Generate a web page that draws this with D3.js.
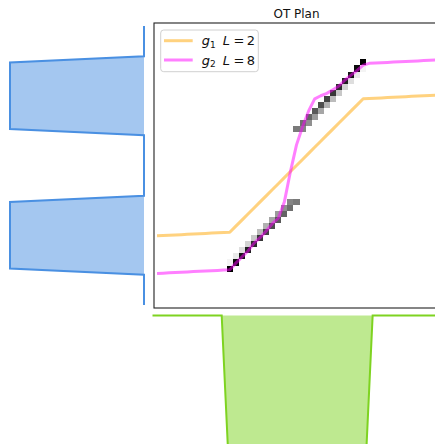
<!DOCTYPE html>
<html>
<head>
<meta charset="utf-8">
<script src="https://cdn.jsdelivr.net/npm/d3@7"></script>
<style>
  html, body { margin: 0; padding: 0; background: #fff; }
  svg { display: block; font-family: "DejaVu Sans", sans-serif; }
</style>
</head>
<body>
<svg id="chart" width="435" height="444"></svg>
<script>
// Sample grid shared by the source (rows) and the target (columns)
const gridIndex = d3.range(47);

// Source histogram a (rows, counted from the bottom), relative height
const sourceMass = [0,0,0,0,0,0, 1,1,1,1,1,1,1,1,1,1,1,1, 0,0,0,0,0,0,0,0,0,0,0,
                    1,1,1,1,1,1,1,1,1,1,1,1, 0,0,0,0,0,0];
// Target histogram b (columns), relative height
const targetMass = [0,0,0,0,0,0,0,0,0,0,0,0, 1,1,1,1,1,1,1,1,1,1,1,1,1,1,1,1,1,1,1,1,1,1,1,
                    0,0,0,0,0,0,0,0,0,0,0,0];

// Non-zero entries of the transport plan (row, column, shade out of 23)
const planRows  = [6,7,8,9,10,11,12,13,14,15,16,17,  7,8,9,10,11,12,13,14,15,16,17,
                   29,30,31,32,33,34,35,36,37,38,39,40,  29,30,31,32,33,34,35,36,37,38,39];
const planCols  = [12,13,14,15,16,17,18,19,20,21,22,23,  12,13,14,15,16,17,18,19,20,21,22,
                   23,24,25,26,27,28,29,30,31,32,33,34,  24,25,26,27,28,29,30,31,32,33,34];
const planShade = [23,22,21,20,19,18,17,16,15,14,13,12,  1,2,3,4,5,6,7,8,9,10,11,
                   12,13,14,15,16,17,18,19,20,21,22,23,  11,10,9,8,7,6,5,4,3,2,1];

// Fitted maps evaluated on the column grid (values in row units)
const g1Values = [11.4,11.45,11.5,11.55,11.6,11.65,11.7,11.75,11.8,11.85,11.9,11.95,
                  12,13,14,15,16,17,18,19,20,21,22,23,24,25,26,27,28,29,30,31,32,33,34,
                  34.05,34.1,34.15,34.2,34.25,34.3,34.35,34.4,34.45,34.5,34.55,34.6];
const g2Values = [5.2,5.25,5.3,5.35,5.4,5.45,5.5,5.55,5.6,5.65,5.7,5.75,
                  5.8,6.9,7.9,8.9,10.2,11.1,12.2,13.4,14.3,17.0,22.0,26.4,29.4,32.0,34.0,
                  34.5,34.9,35.5,36.1,37.1,37.9,38.7,39.55,
                  39.85,39.9,39.95,40.0,40.05,40.1,40.15,40.2,40.25,40.3,40.35,40.4];

const legendLabels = [["g", "1", "L", "2"], ["g", "2", "L", "8"]];
const lineColors = ["orange", "magenta"];
const titleText = "OT Plan";

const svg = d3.select("#chart");

// Main plan axes
const ax = { left: 154, top: 23, size: 285 };
const x = d3.scaleLinear().domain([-0.5, 46.5]).range([ax.left, ax.left + ax.size]);
const y = d3.scaleLinear().domain([-0.5, 46.5]).range([ax.top + ax.size, ax.top]);
const cell = x(1) - x(0);

// Source panel (left) and target panel (below, on its own horizontal scale)
const srcBase = 144, srcDepth = 134;
const srcX = d3.scaleLinear().domain([0, 1]).range([srcBase, srcBase - srcDepth]);
const tgtX = d3.scaleLinear().domain([0, 46]).range([152.5, 152.5 + 46 * 6.29]);
const tgtBase = 315.5, tgtDepth = 134;
const tgtY = d3.scaleLinear().domain([0, 1]).range([tgtBase, tgtBase + tgtDepth]);

const blue = "#4a90e2", green = "#7ed321";

// source histogram
const srcLine = d3.line().x(i => srcX(sourceMass[i])).y(i => y(i));
const srcArea = d3.area().y(i => y(i)).x0(srcBase).x1(i => srcX(sourceMass[i]));
svg.append("path").attr("d", srcArea(gridIndex)).attr("fill", blue).attr("fill-opacity", 0.5);
svg.append("path").attr("d", srcLine(gridIndex)).attr("fill", "none")
  .attr("stroke", blue).attr("stroke-width", 2);

// target histogram
const tgtLine = d3.line().x(j => tgtX(j)).y(j => tgtY(targetMass[j]));
const tgtArea = d3.area().x(j => tgtX(j)).y0(tgtBase).y1(j => tgtY(targetMass[j]));
svg.append("path").attr("d", tgtArea(gridIndex)).attr("fill", green).attr("fill-opacity", 0.5);
svg.append("path").attr("d", tgtLine(gridIndex)).attr("fill", "none")
  .attr("stroke", green).attr("stroke-width", 2);

// plan image
const shade = d3.scaleLinear().domain([0, 23]).range(["#ffffff", "#000000"]);
svg.append("clipPath").attr("id", "axclip")
  .append("rect").attr("x", ax.left).attr("y", ax.top).attr("width", ax.size).attr("height", ax.size);
const plot = svg.append("g").attr("clip-path", "url(#axclip)");
plot.selectAll("rect.cell").data(planRows.map((r, i) => ({ r, c: planCols[i], s: planShade[i] })))
  .join("rect").attr("class", "cell")
  .attr("x", d => x(d.c - 0.5)).attr("y", d => y(d.r + 0.5))
  .attr("width", cell).attr("height", cell)
  .attr("fill", d => shade(d.s)).attr("shape-rendering", "crispEdges");

// fitted maps
const mapLine = vals => d3.line().x(j => x(j)).y(j => y(vals[j]))(gridIndex);
[g1Values, g2Values].forEach((vals, k) => {
  plot.append("path").attr("d", mapLine(vals)).attr("fill", "none")
    .attr("stroke", lineColors[k]).attr("stroke-opacity", 0.5).attr("stroke-width", 3)
    .attr("stroke-linejoin", "round");
});

// frame
svg.append("rect").attr("x", ax.left).attr("y", ax.top).attr("width", ax.size).attr("height", ax.size)
  .attr("fill", "none").attr("stroke", "#222").attr("stroke-width", 1.1);

// title
svg.append("text").attr("x", ax.left + ax.size / 2).attr("y", 18.3).attr("text-anchor", "middle")
  .attr("font-size", 12).attr("fill", "#111").text(titleText);

// legend
const leg = svg.append("g");
leg.append("rect").attr("x", 160.7).attr("y", 30).attr("width", 97.6).attr("height", 41.7)
  .attr("rx", 3).attr("fill", "#fff").attr("fill-opacity", 0.8)
  .attr("stroke", "#d0d0d0").attr("stroke-width", 1);
legendLabels.forEach((lab, k) => {
  const ly = 40.7 + k * 19.3;
  leg.append("line").attr("x1", 164).attr("x2", 192.7).attr("y1", ly).attr("y2", ly)
    .attr("stroke", lineColors[k]).attr("stroke-opacity", 0.5).attr("stroke-width", 3);
  const t = leg.append("text").attr("x", 201.7).attr("y", ly + 4.6).attr("font-size", 13).attr("fill", "#111");
  t.append("tspan").attr("font-style", "italic").text(lab[0]);
  t.append("tspan").attr("font-size", 9).attr("dy", 2.5).text(lab[1]);
  t.append("tspan").attr("dy", -2.5).attr("dx", 7).attr("font-style", "italic").text(lab[2]);
  t.append("tspan").attr("dx", 3.5).text("=");
  t.append("tspan").attr("dx", 2.5).text(lab[3]);
});
</script>
</body>
</html>
